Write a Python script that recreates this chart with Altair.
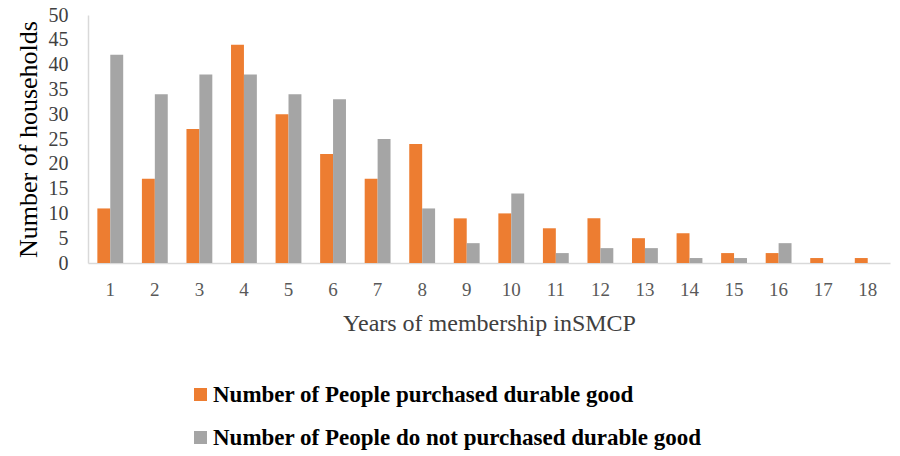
import altair as alt
import pandas as pd

years = [str(i) for i in range(1, 19)]
purchased = [11, 17, 27, 44, 30, 22, 17, 24, 9, 10, 7, 9, 5, 6, 2, 2, 1, 1]
not_purchased = [42, 34, 38, 38, 34, 33, 25, 11, 4, 14, 2, 3, 3, 1, 1, 4, 0, 0]
series = ["Number of People purchased durable good",
          "Number of People do not purchased durable good"]
colors = ["#ED7D31", "#A5A5A5"]

rows = []
for y, a, b in zip(years, purchased, not_purchased):
    rows.append({"year": y, "series": series[0], "value": a})
    rows.append({"year": y, "series": series[1], "value": b})
df = pd.DataFrame(rows)

FONT = "Liberation Serif"

chart = alt.Chart(df).mark_bar().encode(
    x=alt.X("year:N", sort=years,
            scale=alt.Scale(paddingInner=0.42, paddingOuter=0.21),
            axis=alt.Axis(title="Years of membership inSMCP", labelAngle=0,
                          labelFont=FONT, labelFontSize=19, labelColor="#595959",
                          labelPadding=17, ticks=False, domainColor="#D9D9D9",
                          domainWidth=1.5, titleFont=FONT, titleFontSize=24,
                          titleFontWeight="normal", titleColor="#404040",
                          titlePadding=12)),
    xOffset=alt.XOffset("series:N", sort=series),
    y=alt.Y("value:Q", scale=alt.Scale(domain=[0, 50]),
            axis=alt.Axis(title="Number of households", values=list(range(0, 51, 5)),
                          labelFont=FONT, labelFontSize=20, labelColor="#404040",
                          labelPadding=20, ticks=False, grid=False,
                          domainColor="#D9D9D9", domainWidth=1.5,
                          titleFont=FONT, titleFontSize=26, titleFontWeight="normal",
                          titleColor="#000000", titlePadding=7)),
    color=alt.Color("series:N", sort=series,
                    scale=alt.Scale(domain=series, range=colors),
                    legend=alt.Legend(title=None, orient="none", legendX=101, legendY=368,
                                      symbolType="square", symbolSize=169,
                                      symbolStrokeWidth=0, labelFont=FONT,
                                      labelFontSize=23, labelFontWeight="bold",
                                      labelColor="#000000", rowPadding=19,
                                      labelLimit=700, symbolOffset=0,
                                      labelOffset=1)),
).properties(
    width=802, height=248,
    autosize=alt.AutoSizeParams(type="none"),
    padding={"left": 88, "top": 15, "right": 10, "bottom": 193},
).configure_view(stroke=None)

chart.save("out.html", embed_options={"renderer": "svg", "actions": False})
